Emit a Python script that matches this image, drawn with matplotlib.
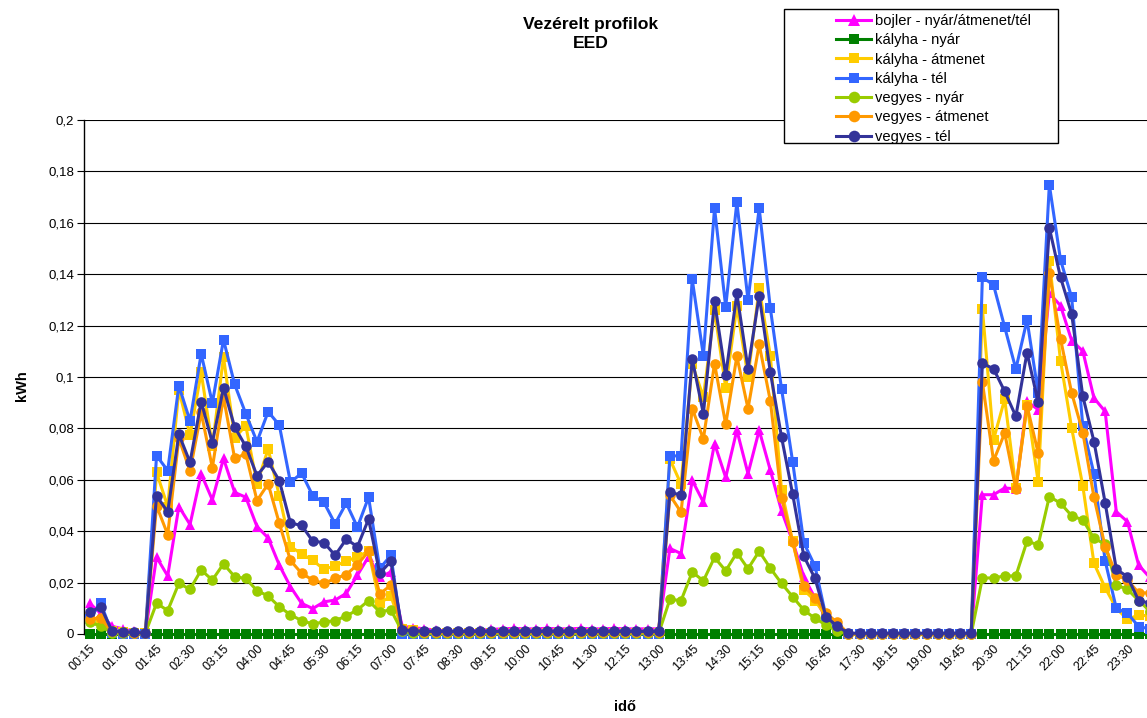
import matplotlib
matplotlib.use("Agg")
import matplotlib.pyplot as plt
from matplotlib.patches import Rectangle
from matplotlib.ticker import FuncFormatter

# 15 perces idopontok 00:15 ... 24:00
idopontok = ["%02d:%02d" % (((i + 1) * 15) // 60, ((i + 1) * 15) % 60) for i in range(96)]

bojler = [
    0.012, 0.008, 0.003, 0.002, 0.001, 0.0005, 0.0299, 0.0226, 0.0496, 0.0426, 0.0623, 0.0522,
    0.0683, 0.0551, 0.0532, 0.0418, 0.0374, 0.0268, 0.0184, 0.0119, 0.0099, 0.0125, 0.0132, 0.0158,
    0.0229, 0.0301, 0.022, 0.0242, 0.003, 0.0025, 0.002, 0.0015, 0.0012, 0.001, 0.0012, 0.0015,
    0.0018, 0.002, 0.0022, 0.002, 0.002, 0.0022, 0.002, 0.002, 0.0022, 0.002, 0.002, 0.0022,
    0.002, 0.002, 0.002, 0.002, 0.0333, 0.0313, 0.0598, 0.0513, 0.0741, 0.0609, 0.0793, 0.0624,
    0.0793, 0.0637, 0.048, 0.036, 0.0223, 0.014, 0.006, 0.003, 0, 0, 0, 0,
    0, 0, 0, 0, 0, 0, 0, 0, 0.0542, 0.0542, 0.0568, 0.0565,
    0.0905, 0.0873, 0.1326, 0.1278, 0.1142, 0.1101, 0.0918, 0.0866, 0.0476, 0.0437, 0.0268, 0.022,
]
kalyha_nyar = [
    0, 0, 0, 0, 0, 0, 0, 0, 0, 0, 0, 0,
    0, 0, 0, 0, 0, 0, 0, 0, 0, 0, 0, 0,
    0, 0, 0, 0, 0, 0, 0, 0, 0, 0, 0, 0,
    0, 0, 0, 0, 0, 0, 0, 0, 0, 0, 0, 0,
    0, 0, 0, 0, 0, 0, 0, 0, 0, 0, 0, 0,
    0, 0, 0, 0, 0, 0, 0, 0, 0, 0, 0, 0,
    0, 0, 0, 0, 0, 0, 0, 0, 0, 0, 0, 0,
    0, 0, 0, 0, 0, 0, 0, 0, 0, 0, 0, 0,
]
kalyha_atmenet = [
    0.0067, 0.005, 0.001, 0.0008, 0.0005, 0.0003, 0.0629, 0.0496, 0.095, 0.0774, 0.1018, 0.073,
    0.1078, 0.0764, 0.081, 0.0584, 0.072, 0.0538, 0.034, 0.0312, 0.0286, 0.0252, 0.0265, 0.0283,
    0.0301, 0.0322, 0.012, 0.0148, 0.002, 0.0015, 0.0005, 0.0005, 0.0005, 0.0005, 0.0005, 0.0005,
    0.0005, 0.0005, 0.0005, 0.0005, 0.0005, 0.0005, 0.0005, 0.0005, 0.0005, 0.0005, 0.0005, 0.0005,
    0.0005, 0.0005, 0.0005, 0.0005, 0.068, 0.0583, 0.105, 0.0922, 0.126, 0.0958, 0.1275, 0.1,
    0.1345, 0.1083, 0.056, 0.036, 0.0171, 0.013, 0.007, 0.004, 0, 0, 0, 0,
    0, 0, 0, 0, 0, 0, 0, 0, 0.1266, 0.0756, 0.0914, 0.057,
    0.089, 0.0592, 0.1453, 0.1064, 0.0801, 0.0576, 0.0275, 0.018, 0.010, 0.0057, 0.0074, 0.007,
]
kalyha_tel = [
    0.006, 0.012, 0.0005, 0, 0, 0, 0.0694, 0.0636, 0.0966, 0.0829, 0.109, 0.0899,
    0.1145, 0.0971, 0.0857, 0.0748, 0.0865, 0.0813, 0.059, 0.0626, 0.0538, 0.0512, 0.0429, 0.0509,
    0.0416, 0.0532, 0.0255, 0.0306, 0, 0, 0, 0, 0, 0, 0, 0,
    0, 0, 0, 0, 0, 0, 0, 0, 0, 0, 0, 0,
    0, 0, 0, 0, 0.0693, 0.0693, 0.138, 0.1083, 0.1657, 0.1273, 0.168, 0.1299,
    0.1657, 0.1268, 0.0955, 0.067, 0.0355, 0.0264, 0.0065, 0.002, 0, 0, 0, 0,
    0, 0, 0, 0, 0, 0, 0, 0, 0.1388, 0.1358, 0.1194, 0.1031,
    0.1222, 0.0939, 0.1748, 0.1456, 0.131, 0.0808, 0.0623, 0.0285, 0.010, 0.0081, 0.0029, 0.002,
]
vegyes_nyar = [
    0.0047, 0.003, 0.0005, 0.0003, 0.0003, 0.0003, 0.012, 0.0091, 0.0197, 0.0174, 0.0249, 0.021,
    0.0273, 0.0223, 0.0216, 0.0169, 0.0148, 0.0106, 0.0075, 0.0052, 0.0039, 0.0047, 0.0052, 0.007,
    0.0094, 0.013, 0.0086, 0.0094, 0.001, 0.0005, 0.0003, 0.0003, 0.0003, 0.0003, 0.0003, 0.0003,
    0.0003, 0.0003, 0.0003, 0.0003, 0.0003, 0.0003, 0.0003, 0.0003, 0.0003, 0.0003, 0.0003, 0.0003,
    0.0003, 0.0003, 0.0003, 0.0003, 0.0135, 0.013, 0.0241, 0.0207, 0.0298, 0.0246, 0.0316, 0.0254,
    0.0322, 0.0256, 0.0197, 0.0145, 0.0093, 0.0061, 0.0035, 0.001, 0, 0, 0, 0,
    0, 0, 0, 0, 0, 0, 0, 0, 0.0218, 0.0218, 0.0226, 0.0226,
    0.0361, 0.0347, 0.0535, 0.0509, 0.046, 0.0444, 0.0372, 0.035, 0.019, 0.0174, 0.013, 0.009,
]
vegyes_atmenet = [
    0.006, 0.0061, 0.001, 0.0008, 0.0005, 0.0003, 0.0499, 0.0387, 0.0761, 0.0634, 0.0862, 0.0647,
    0.0922, 0.0683, 0.0701, 0.0519, 0.0584, 0.0431, 0.0286, 0.0236, 0.021, 0.0197, 0.0216, 0.0231,
    0.027, 0.0322, 0.0156, 0.019, 0.002, 0.0015, 0.0008, 0.0008, 0.0008, 0.0008, 0.0008, 0.0008,
    0.0008, 0.0008, 0.0008, 0.0008, 0.0008, 0.0008, 0.0008, 0.0008, 0.0008, 0.0008, 0.0008, 0.0008,
    0.0008, 0.0008, 0.0008, 0.0008, 0.054, 0.0474, 0.0877, 0.0759, 0.1052, 0.0816, 0.108, 0.0877,
    0.1127, 0.0907, 0.0531, 0.0359, 0.0187, 0.0142, 0.008, 0.0045, 0, 0, 0, 0,
    0, 0, 0, 0, 0, 0, 0, 0, 0.098, 0.0674, 0.0782, 0.0564,
    0.0888, 0.0704, 0.1404, 0.1149, 0.0938, 0.0784, 0.0532, 0.034, 0.023, 0.021, 0.016, 0.016,
]
vegyes_tel = [
    0.0084, 0.0106, 0.0012, 0.0009, 0.0006, 0.0004, 0.0538, 0.0475, 0.0777, 0.0668, 0.0904, 0.0745,
    0.0958, 0.0805, 0.073, 0.0616, 0.067, 0.0597, 0.0431, 0.0423, 0.0361, 0.0356, 0.0306, 0.0369,
    0.034, 0.0447, 0.0236, 0.0283, 0.0016, 0.0013, 0.001, 0.001, 0.001, 0.001, 0.001, 0.001,
    0.001, 0.001, 0.001, 0.001, 0.001, 0.001, 0.001, 0.001, 0.001, 0.001, 0.001, 0.001,
    0.001, 0.001, 0.001, 0.001, 0.0551, 0.0541, 0.107, 0.0857, 0.1294, 0.1006, 0.1325, 0.1032,
    0.1317, 0.1019, 0.0767, 0.0544, 0.0303, 0.0216, 0.0067, 0.003, 0.0003, 0.0003, 0.0003, 0.0003,
    0.0003, 0.0003, 0.0003, 0.0003, 0.0003, 0.0003, 0.0003, 0.0003, 0.1053, 0.1032, 0.0944, 0.0847,
    0.1095, 0.0901, 0.158, 0.1388, 0.1245, 0.0925, 0.0749, 0.0511, 0.0252, 0.0223, 0.013, 0.012,
]

series = [
    ("bojler - nyár/átmenet/tél", bojler, "#FF00FF", "^"),
    ("kályha - nyár", kalyha_nyar, "#008000", "s"),
    ("kályha - átmenet", kalyha_atmenet, "#FFCC00", "s"),
    ("kályha - tél", kalyha_tel, "#3366FF", "s"),
    ("vegyes - nyár", vegyes_nyar, "#99CC00", "o"),
    ("vegyes - átmenet", vegyes_atmenet, "#FF9900", "o"),
    ("vegyes - tél", vegyes_tel, "#333399", "o"),
]

plt.rcParams['font.family'] = ['Liberation Sans', 'DejaVu Sans']

W, H = 1147, 718
fig = plt.figure(figsize=(W / 100, H / 100), dpi=100)
# plot area: left 84px, 11.16px per category, y=0 at 634px, y=0.2 at 120px
ax = fig.add_axes([84 / W, (H - 634) / H, 96 * 11.16 / W, 514 / H])

x = list(range(len(idopontok)))
for z, (name, vals, col, mk) in enumerate(series):
    ms = 7.5 if mk == "^" else (6.8 if mk == "s" else 7.6)
    ax.plot(x, vals, color=col, marker=mk, markersize=ms, linewidth=2.2,
            markeredgewidth=0, label=name, zorder=3 + z, clip_on=False)

ax.set_xlim(-0.5, 95.5)
ax.set_ylim(0, 0.2)
ax.set_yticks([i * 0.02 for i in range(11)])
ax.yaxis.set_major_formatter(FuncFormatter(lambda v, p: ('%g' % round(v, 2)).replace('.', ',')))
ax.yaxis.grid(True, color='black', linewidth=0.8)
ax.set_axisbelow(True)

ax.set_xticks(x[::3])
ax.set_xticklabels(idopontok[::3], rotation=45, ha='right', va='top', rotation_mode='anchor')
ax.tick_params(axis='x', length=0, pad=6, labelsize=9)
ax.tick_params(axis='y', length=5, width=0.8, pad=2, labelsize=9.5)

for s in ['top', 'right']:
    ax.spines[s].set_visible(False)
ax.spines['left'].set_linewidth(1.0)
ax.spines['bottom'].set_linewidth(1.0)

fig.text(591 / W, 1 - 34 / H, "Vezérelt profilok\nEED", ha='center', va='center',
         fontsize=12.6, fontweight='bold', linespacing=1.4)
fig.text(22 / W, 1 - 386 / H, "kWh", ha='center', va='center', rotation=90,
         fontsize=10.5, fontweight='bold')
fig.text(625 / W, 1 - 707 / H, "idő", ha='center', va='center', fontsize=10.5, fontweight='bold')

# legend box
fig.patches.append(Rectangle((784 / W, 1 - 143 / H), 274 / W, 134 / H, transform=fig.transFigure,
                             facecolor='white', edgecolor='black', linewidth=1.0, zorder=10))
leg = fig.legend(loc='upper left', bbox_to_anchor=(836 / W, 1 - 14 / H), frameon=False,
                 fontsize=10.6, handlelength=2.4, handletextpad=0.25, labelspacing=0.36,
                 borderpad=0, borderaxespad=0, markerscale=1.1)
leg.set_zorder(11)

fig.savefig("out.png", dpi=100)
